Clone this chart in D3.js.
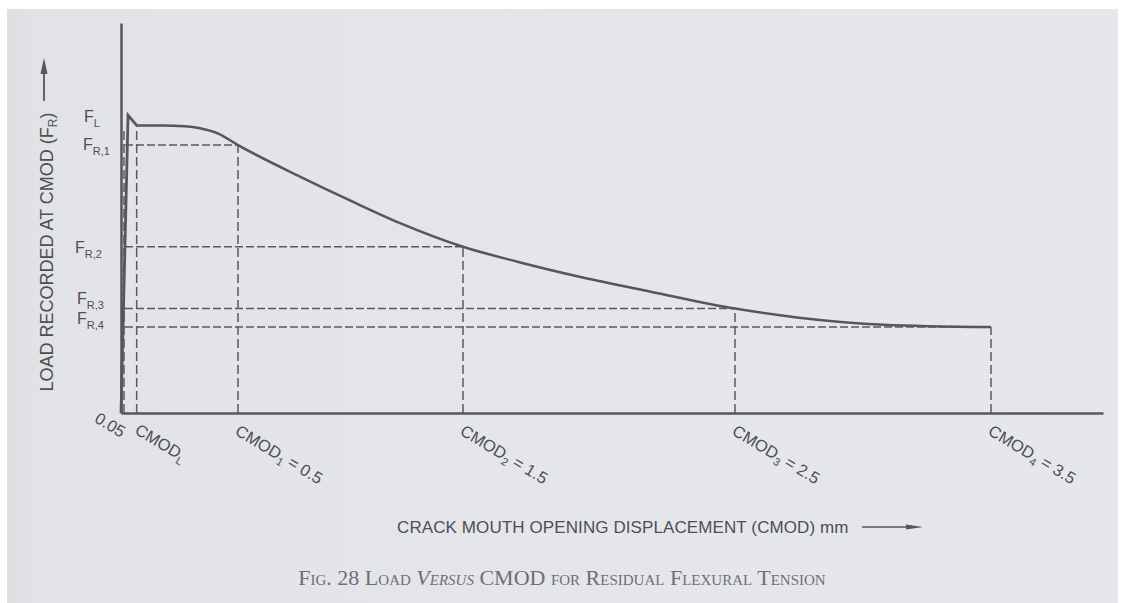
<!DOCTYPE html>
<html>
<head>
<meta charset="utf-8">
<script src="https://cdn.jsdelivr.net/npm/d3@7"></script>
<style>
  html, body { margin: 0; padding: 0; background: #ffffff; }
  svg { display: block; }
</style>
</head>
<body>
<svg id="chart" width="1122" height="603"></svg>
<script>
// ---- data (load in arbitrary units) ----
const curveCmod = [0, 0.066, 0.1, 0.2, 0.29, 0.35, 0.42, 0.5, 0.78, 1.0, 1.22, 1.5, 1.70, 1.94, 2.19, 2.5, 2.75, 3.08, 3.5];
const curveLoad = [0, 75.6, 73.0, 73.0, 72.8, 72.3, 71.0, 68.0, 59.9, 53.9, 48.2, 42.2, 38.4, 34.4, 30.8, 26.5, 24.2, 22.4, 21.8];
const peakCount = 3; // first points: linear rise to F_L and drop to CMOD_L

const residualCmod = [0.5, 1.5, 2.5, 3.5];
const residualLoad = [68.0, 42.2, 26.5, 21.8];
const residualNames = ["1", "2", "3", "4"];
const residualTickText = ["0.5", "1.5", "2.5", "3.5"];

const cmodLimit = 0.05;
const cmodL = 0.1;
const loadFL = 75.6;
const loadCmodL = 73.0;

const yTitle = "LOAD RECORDED AT CMOD (F";
const xTitle = "CRACK MOUTH OPENING DISPLACEMENT (CMOD) mm";

// ---- drawing ----
const svg = d3.select("#chart");
const W = 1122, H = 603;
const ink = "#56565b";
const textInk = "#4e4e53";

// background (scanned page)
svg.append("rect").attr("width", W).attr("height", H).attr("fill", "#ffffff");
const grad = svg.append("defs").append("linearGradient").attr("id", "bg").attr("x1", 0).attr("x2", 1).attr("y1", 0).attr("y2", 0);
grad.append("stop").attr("offset", "0").attr("stop-color", "#dedfe2");
grad.append("stop").attr("offset", "0.03").attr("stop-color", "#e2e3e7");
grad.append("stop").attr("offset", "0.5").attr("stop-color", "#e5e6ea");
grad.append("stop").attr("offset", "1").attr("stop-color", "#e6e7eb");
svg.append("rect").attr("x", 7).attr("y", 9).attr("width", W - 11).attr("height", H - 9).attr("fill", "url(#bg)");

// schematic (non-uniform) CMOD scale, as in the original drawing
const x = d3.scaleLinear()
  .domain([0, 0.05, 0.5, 1.5, 2.5, 3.5, 3.94])
  .range([121, 124, 238, 463, 735, 991, 1103]);
const y = d3.scaleLinear().domain([0, 99]).range([413, 23]);

// axes
const gx = svg.append("g").attr("transform", `translate(0,${y(0)})`)
  .call(d3.axisBottom(x).tickValues([]).tickSizeOuter(0));
const gy = svg.append("g").attr("transform", `translate(${x(0)},0)`)
  .call(d3.axisLeft(y).tickValues([]).tickSizeOuter(0));
[gx, gy].forEach(g => g.select(".domain").attr("stroke", ink).attr("stroke-width", 2.5));

// dashed guide lines
const dashG = svg.append("g").attr("fill", "none").attr("stroke", "#5a5a5f")
  .attr("stroke-width", 1.5);
dashG.append("line").attr("x1", x(cmodLimit)).attr("x2", x(cmodLimit))
  .attr("y1", y(0)).attr("y2", y(loadCmodL - 1)).attr("stroke-dasharray", "9,4");
dashG.append("line").attr("x1", x(cmodL)).attr("x2", x(cmodL))
  .attr("y1", y(0)).attr("y2", y(loadCmodL)).attr("stroke-dasharray", "9,4");
residualCmod.forEach((c, i) => {
  dashG.append("line").attr("x1", x(c)).attr("x2", x(c))
    .attr("y1", y(0)).attr("y2", y(residualLoad[i])).attr("stroke-dasharray", "9,4");
  dashG.append("line").attr("x1", x(cmodLimit) + 1).attr("x2", x(c))
    .attr("y1", y(residualLoad[i])).attr("y2", y(residualLoad[i])).attr("stroke-dasharray", "8,3");
});

// load curve
const pts = curveCmod.map((c, i) => [c, curveLoad[i]]);
const lineLin = d3.line().x(d => x(d[0])).y(d => y(d[1])).curve(d3.curveLinear);
const lineSmooth = d3.line().x(d => x(d[0])).y(d => y(d[1])).curve(d3.curveMonotoneX);
svg.append("path").attr("d", lineLin(pts.slice(0, peakCount)))
  .attr("fill", "none").attr("stroke", ink).attr("stroke-width", 2.8).attr("stroke-linejoin", "miter");
svg.append("path").attr("d", lineSmooth(pts.slice(peakCount - 1)))
  .attr("fill", "none").attr("stroke", ink).attr("stroke-width", 2.5);

// y labels F_L, F_R,i
const fFont = "Liberation Sans, Arial, sans-serif";
function fLabel(sub, load, dx, dyBase) {
  const t = svg.append("text").attr("x", dx).attr("y", y(load) + dyBase)
    .attr("font-family", fFont).attr("font-size", 16).attr("fill", textInk);
  t.append("tspan").text("F");
  t.append("tspan").attr("font-size", 11).attr("dy", 5).text(sub);
}
fLabel("L", loadFL, 84, 7);
const fOffsets = [{dx: 83, dy: 5}, {dx: 75, dy: 6}, {dx: 77, dy: -5}, {dx: 77, dy: -3}];
residualLoad.forEach((v, i) => fLabel("R," + residualNames[i], v, fOffsets[i].dx, fOffsets[i].dy));

// x tick labels (rotated)
const rot = 31;
function rotLabel(px, py, anchor, parts) {
  const t = svg.append("text")
    .attr("transform", `translate(${px},${py}) rotate(${rot})`)
    .attr("text-anchor", anchor)
    .attr("font-family", fFont).attr("font-size", 16.5).attr("fill", textInk);
  parts.forEach(p => {
    const s = t.append("tspan").text(p.t);
    if (p.sub) s.attr("font-size", 11).attr("dy", 4);
    if (p.up) s.attr("dy", -4);
  });
}
rotLabel(x(cmodLimit) - 3, y(0) + 25, "end", [{t: "0.05"}]);
rotLabel(x(cmodL) - 3, y(0) + 20, "start", [{t: "CMOD"}, {t: "L", sub: true}]);
residualCmod.forEach((c, i) => {
  rotLabel(x(c) - 4, y(0) + 21, "start",
    [{t: "CMOD"}, {t: residualNames[i], sub: true}, {t: " = " + residualTickText[i], up: true}]);
});

// y-axis title with arrow
const yt = svg.append("text").attr("transform", "translate(53,252) rotate(-90)")
  .attr("text-anchor", "middle").attr("font-family", fFont).attr("font-size", 18).attr("fill", textInk);
yt.append("tspan").text(yTitle);
yt.append("tspan").attr("font-size", 12).attr("dy", 4).text("R");
yt.append("tspan").attr("dy", -4).text(")");
svg.append("line").attr("x1", 44).attr("x2", 44).attr("y1", 101).attr("y2", 66)
  .attr("stroke", ink).attr("stroke-width", 1.8);
svg.append("path").attr("d", "M44,58 L40.5,74 L47.5,74 Z").attr("fill", ink);

// x-axis title with arrow
svg.append("text").attr("x", 397).attr("y", 533)
  .attr("font-family", fFont).attr("font-size", 17).attr("fill", textInk)
  .attr("letter-spacing", 0.1).text(xTitle);
svg.append("line").attr("x1", 862).attr("x2", 912).attr("y1", 527).attr("y2", 527)
  .attr("stroke", ink).attr("stroke-width", 1.3);
svg.append("path").attr("d", "M923,527 L906,524.5 L906,529.5 Z").attr("fill", ink);

// caption
const cap = svg.append("text").attr("x", 562).attr("y", 585).attr("text-anchor", "middle")
  .attr("font-family", "Liberation Serif, Times New Roman, serif").attr("font-size", 22)
  .attr("font-variant", "small-caps").attr("fill", "#6e6e73");
cap.append("tspan").text("Fig. 28 Load ");
cap.append("tspan").attr("font-style", "italic").text("Versus");
cap.append("tspan").text(" CMOD for Residual Flexural Tension");
</script>
</body>
</html>
